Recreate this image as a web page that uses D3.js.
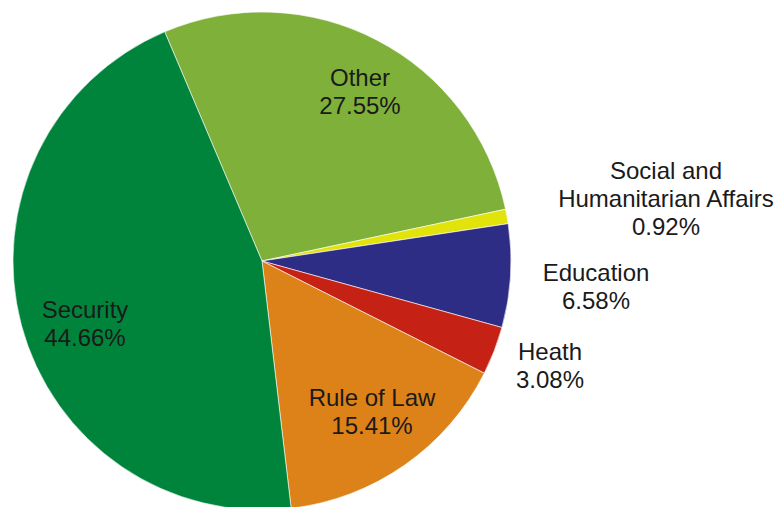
<!DOCTYPE html>
<html>
<head>
<meta charset="utf-8">
<script src="https://cdn.jsdelivr.net/npm/d3@7"></script>
<style>
  body { margin: 0; background: #fff; }
  text { font-family: "Liberation Sans", Arial, sans-serif; font-size: 24px; fill: #1a1a1a; }
</style>
</head>
<body>
<div id="container"></div>
<script>
let w = 776;
let h = 507;

// data, in drawing order (clockwise from the Other slice)
let categories = ['Other', 'Social and Humanitarian Affairs', 'Education', 'Heath', 'Rule of Law', 'Security'];
let shares = [27.55, 0.92, 6.58, 3.08, 15.41, 44.66];
let colors = ['#7FB03A', '#E2E30B', '#2E2D86', '#C62115', '#DD8119', '#00843C'];

// label lines and where each label sits
let labelLines = [
  ['Other', '27.55%'],
  ['Social and', 'Humanitarian Affairs', '0.92%'],
  ['Education', '6.58%'],
  ['Heath', '3.08%'],
  ['Rule of Law', '15.41%'],
  ['Security', '44.66%']
];
let labelAt = [[360, 86], [666, 179], [596, 281], [550, 360], [372, 406], [85, 318]];

let cx = 262, cy = 261, radius = 249;
let lineGap = 28;

let svg = d3.select('#container')
  .append('svg')
    .attr('width', w)
    .attr('height', h);

let rows = categories.map((c, i) => ({ name: c, value: shares[i], color: colors[i], i: i }));

let pie = d3.pie()
  .sort(null)
  .value(d => d.value)
  .startAngle(-23 * Math.PI / 180)
  .endAngle((360 - 23) * Math.PI / 180);

let arc = d3.arc()
  .innerRadius(0)
  .outerRadius(radius);

let g = svg.append('g')
  .attr('transform', 'translate(' + cx + ',' + cy + ')');

g.selectAll('path')
  .data(pie(rows))
  .enter()
  .append('path')
    .attr('d', arc)
    .attr('fill', d => d.data.color)
    .attr('stroke', '#fff')
    .attr('stroke-width', 0.6);

//labels
let labels = svg.selectAll('.label')
  .data(rows)
  .enter()
  .append('text')
    .attr('class', 'label')
    .attr('text-anchor', 'middle')
    .attr('x', d => labelAt[d.i][0])
    .attr('y', d => labelAt[d.i][1]);

labels.selectAll('tspan')
  .data(d => labelLines[d.i].map(t => ({ t: t, x: labelAt[d.i][0] })))
  .enter()
  .append('tspan')
    .attr('x', d => d.x)
    .attr('dy', (d, j) => j == 0 ? 0 : lineGap)
    .text(d => d.t);
</script>
</body>
</html>
